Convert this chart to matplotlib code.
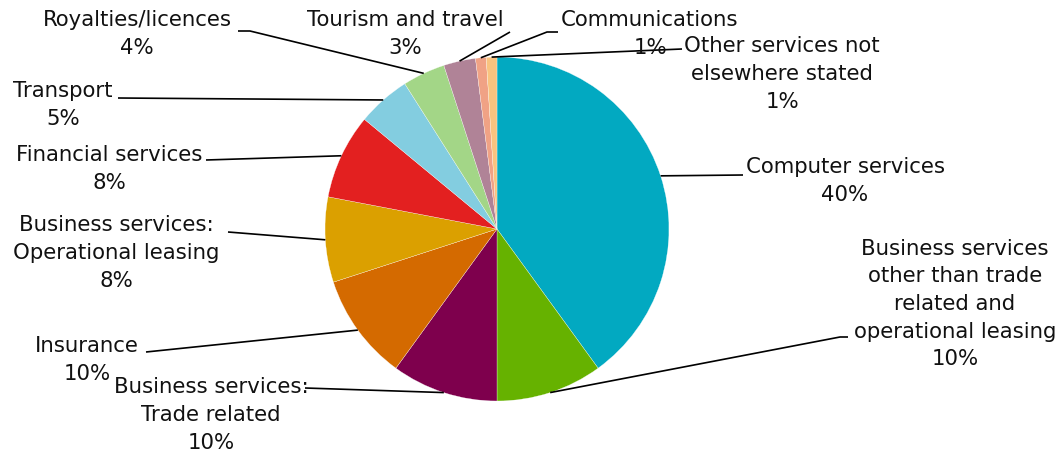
import matplotlib
matplotlib.use("Agg")
import matplotlib.pyplot as plt
import numpy as np

# Shares of services exports by category (percent)
categories = [
    "Computer services",
    "Business services\nother than trade\nrelated and\noperational leasing",
    "Business services:\nTrade related",
    "Insurance",
    "Business services:\nOperational leasing",
    "Financial services",
    "Transport",
    "Royalties/licences",
    "Tourism and travel",
    "Communications",
    "Other services not\nelsewhere stated",
]
shares = [40, 10, 10, 10, 8, 8, 5, 4, 3, 1, 1]
colors = ["#02A9C1", "#66B200", "#7E004D", "#D46A00", "#DBA000", "#E32020",
          "#83CDE0", "#A3D687", "#B08397", "#F0A285", "#F9C37F"]

# Label block centres and leader-line waypoints, in pixels from top-left
label_pos = [(845, 179), (955, 302), (211, 413), (87, 358), (116, 251),
             (109, 167), (63, 103), (137, 32), (405, 32), (650, 32), (782, 72)]
leader_pts = [
    [(743, 175)],
    [(848, 337), (840, 337)],
    [(305, 388)],
    [(146, 352)],
    [(228, 232)],
    [(206, 160)],
    [(118, 98)],
    [(238, 31), (250, 31)],
    [(510, 32)],
    [(558, 32), (547, 32)],
    [(682, 49)],
]
LINE_STEP = 27.7  # pixels between label lines

W, H, DPI = 1064, 454, 100
CX, CY, R = 497, 229, 172


def px(x, y):
    return (x - CX) / R, (CY - y) / R


fig = plt.figure(figsize=(W / DPI, H / DPI), dpi=DPI)
ax = fig.add_axes([0, 0, 1, 1])

wedges, _ = ax.pie(shares, colors=colors, startangle=90, counterclock=False,
                   radius=1.0, center=(0, 0), frame=True,
                   wedgeprops=dict(edgecolor="white", linewidth=0.2))
ax.set_xlim(-CX / R, (W - CX) / R)
ax.set_ylim(-(H - CY) / R, CY / R)
ax.set_aspect("equal")
ax.axis("off")

for w, name, share, pos, pts in zip(wedges, categories, shares, label_pos, leader_pts):
    mid = np.deg2rad((w.theta1 + w.theta2) / 2)
    anchor = (np.cos(mid), np.sin(mid))
    path = [px(*p) for p in pts] + [anchor]
    xs, ys = zip(*path)
    ax.plot(xs, ys, color="black", linewidth=1.2, solid_capstyle="butt", zorder=3)

    lines = name.split("\n") + [f"{share}%"]
    top = pos[1] - LINE_STEP * (len(lines) - 1) / 2
    for i, line in enumerate(lines):
        tx, ty = px(pos[0], top + i * LINE_STEP)
        ax.text(tx, ty, line, ha="center", va="center_baseline",
                fontsize=15.3, family="DejaVu Sans", color="#111111", zorder=4)

fig.savefig("out.png", dpi=DPI, facecolor="white")
